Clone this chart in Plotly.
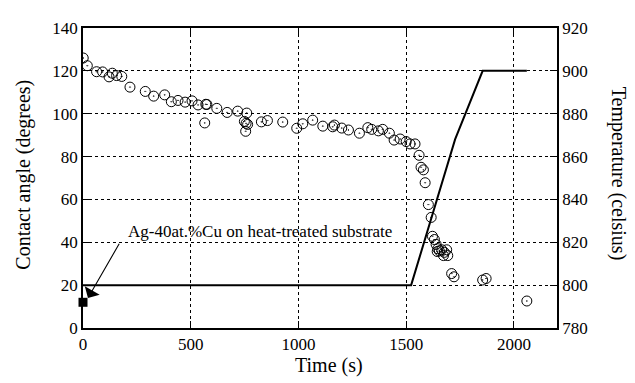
import plotly.graph_objects as go

# Contact angle measurements (time in s, angle in degrees)
times = [1, 20, 63, 91, 121, 136, 156, 180, 218, 289, 328, 379, 410, 441, 474, 506,
         534, 570, 575, 565, 621, 669, 718, 760, 749, 757, 764, 755, 828, 856, 927,
         992, 1020, 1066, 1113, 1159, 1167, 1201, 1232, 1283, 1322, 1340, 1371, 1391,
         1422, 1444, 1472, 1500, 1518, 1541, 1560, 1569, 1580, 1588, 1603, 1616, 1622,
         1631, 1639, 1644, 1647, 1654, 1665, 1673, 1677, 1688, 1693, 1711, 1722, 1855,
         1871, 2060]
angles = [126, 122.4, 119.6, 119.5, 117.2, 118.9, 117.8, 117.4, 112.4, 110.4, 108.2,
          108.8, 105.6, 106.2, 105.4, 106, 104.1, 104.4, 104.3, 95.7, 102.5, 100.6,
          101.2, 100.3, 96.4, 95.5, 95, 91.8, 96.2, 96.8, 96.1, 93.2, 95.3, 97, 94.2,
          93.9, 94.7, 93.3, 92.4, 90.9, 93.5, 92.7, 92, 92.7, 90.9, 87.7, 88.2, 87,
          85.9, 85.9, 80.6, 75, 73.8, 67.8, 57.6, 51.6, 42.8, 41.3, 39, 35.7, 37, 36,
          36.5, 33.8, 35.3, 36.5, 33.8, 25.4, 23.9, 22.4, 23.1, 12.6]

# Temperature profile
temp_times = [0, 1523, 1727, 1855, 2060]
temps = [800, 800, 868, 900, 900]

# Start marker
start_time = [0]
start_angle = [12]

x_ticks = [0, 500, 1000, 1500, 2000]
y_ticks = [0, 20, 40, 60, 80, 100, 120, 140]
y2_ticks = [780, 800, 820, 840, 860, 880, 900, 920]

FONT = "Liberation Serif"

fig = go.Figure()
fig.add_trace(go.Scatter(
    x=temp_times, y=temps, mode="lines", yaxis="y2",
    line=dict(color="black", width=2), showlegend=False))
fig.add_trace(go.Scatter(
    x=times, y=angles, mode="markers",
    marker=dict(symbol="circle-open-dot", size=10, color="black",
                line=dict(color="black", width=1)),
    showlegend=False))
fig.add_trace(go.Scatter(
    x=start_time, y=start_angle, mode="markers", cliponaxis=False,
    marker=dict(symbol="square", size=9, color="black"), showlegend=False))

axis_common = dict(
    showline=True, linecolor="black", linewidth=1.5,
    ticks="inside", ticklen=7, tickcolor="black", tickwidth=1,
    tickfont=dict(family=FONT, size=17, color="black"),
    zeroline=False,
)

fig.update_layout(
    width=627, height=375,
    margin=dict(l=75, r=78, t=11, b=55),
    paper_bgcolor="white", plot_bgcolor="white",
    font=dict(family=FONT, color="black", size=17),
    xaxis=dict(range=[0, 2200], tickvals=x_ticks, mirror="ticks",
               showgrid=True, gridcolor="black", griddash="dot", gridwidth=1,
               **axis_common),
    yaxis=dict(range=[0, 140], tickvals=y_ticks, mirror="ticks",
               showgrid=True, gridcolor="black", griddash="dot", gridwidth=1,
               **axis_common),
    yaxis2=dict(range=[780, 920], tickvals=y2_ticks, overlaying="y", side="right",
                showgrid=False, **axis_common),
    annotations=[
        dict(x=23, y=14, ax=172, ay=40, xref="x", yref="y", axref="x", ayref="y",
             text="", showarrow=True, arrowhead=1, arrowsize=2.6, arrowwidth=1.1,
             arrowcolor="black", standoff=0),
        dict(x=200, y=45, xref="x", yref="y", text="Ag-40at.%Cu on heat-treated substrate",
             showarrow=False, xanchor="left", yanchor="middle",
             font=dict(family=FONT, size=17, color="black")),
        dict(x=0.519, y=-0.126, xref="paper", yref="paper", text="Time (s)",
             showarrow=False, xanchor="center", yanchor="middle",
             font=dict(family=FONT, size=20, color="black")),
        dict(x=-0.1245, y=0.511, xref="paper", yref="paper", text="Contact angle (degrees)",
             showarrow=False, xanchor="center", yanchor="middle", textangle=-90,
             font=dict(family=FONT, size=20, color="black")),
        dict(x=1.1287, y=0.514, xref="paper", yref="paper", text="Temperature (celsius)",
             showarrow=False, xanchor="center", yanchor="middle", textangle=90,
             font=dict(family=FONT, size=20, color="black")),
    ],
)

fig.write_html("out.html")
